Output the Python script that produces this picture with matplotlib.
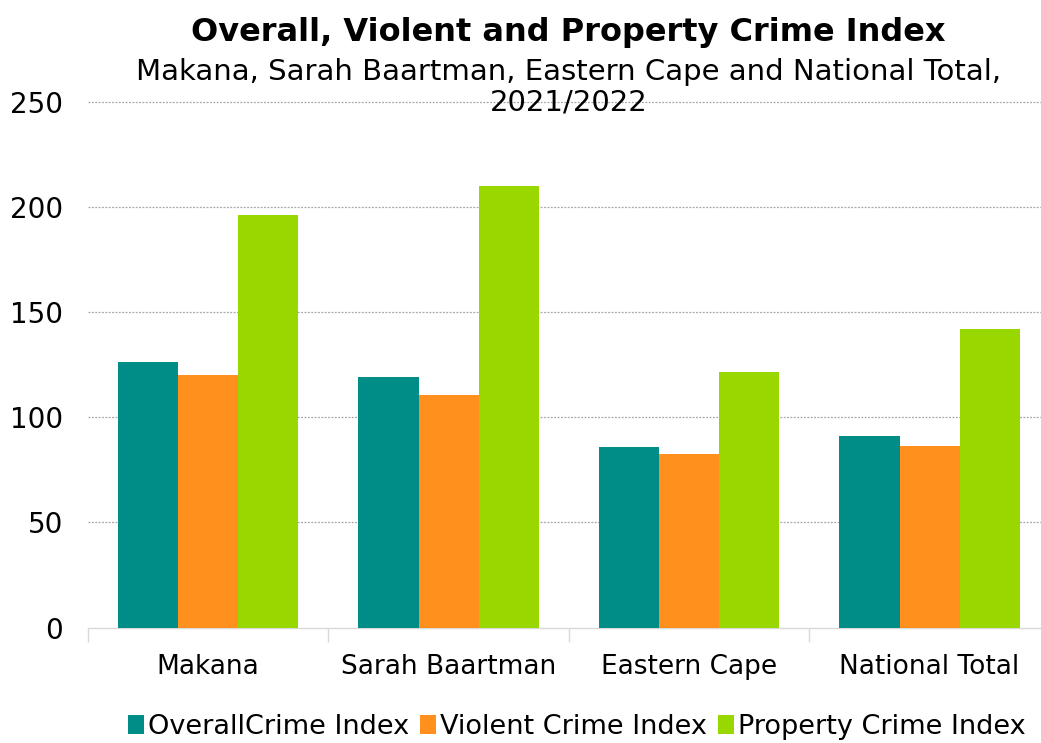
import numpy as np
import matplotlib
matplotlib.use('Agg')
import matplotlib.pyplot as plt
from matplotlib.patches import Patch

#%% Data
areas = ['Makana', 'Sarah Baartman', 'Eastern Cape', 'National Total']
overall = [126.5, 119.0, 85.9, 91.0]
violent = [120.3, 110.5, 82.5, 86.3]
prop = [196.3, 210.1, 121.6, 142.0]
series_names = ['OverallCrime Index', 'Violent Crime Index', 'Property Crime Index']
colors = ['#008C87', '#FF901E', '#98D800']
yticks = [0, 50, 100, 150, 200, 250]

#%% Plot
plt.rcParams['font.family'] = ['DejaVu Sans']
fig = plt.figure(figsize=(10.41, 7.43), dpi=100)
ax = fig.add_axes([0.0845, 0.1554, 0.924, 0.707])

x = np.arange(len(areas))
w = 0.25
for i, vals in enumerate([overall, violent, prop]):
    ax.bar(x + (i - 1) * w, vals, w, color=colors[i], edgecolor='none',
           linewidth=0, zorder=3)

ax.set_xlim(-0.5, len(areas) - 0.5)
ax.set_ylim(0, 250)
ax.set_yticks(yticks)
ax.tick_params(axis='y', length=0, pad=18, labelsize=20)
ax.set_xticks(x)
ax.set_xticklabels(areas)
ax.tick_params(axis='x', which='major', length=0, pad=19, labelsize=19)
ax.set_xticks(np.arange(-0.5, len(areas)), minor=True)
ax.tick_params(axis='x', which='minor', length=10, color='#D9D9D9', width=1)

# dotted gridlines above zero
for v in yticks[1:]:
    ax.axhline(v, color='#A6A6A6', linestyle=(0, (1.5, 1.2)), linewidth=0.9,
               zorder=1, clip_on=False)

for s in ['top', 'right', 'left']:
    ax.spines[s].set_visible(False)
ax.spines['bottom'].set_color('#D9D9D9')
ax.spines['bottom'].set_linewidth(1)

fig.text(0.546, 0.956, 'Overall, Violent and Property Crime Index',
         ha='center', va='center', fontsize=23, fontweight='bold')
fig.text(0.546, 0.883, 'Makana, Sarah Baartman, Eastern Cape and National Total,\n2021/2022',
         ha='center', va='center', fontsize=21, linespacing=1.12)

handles = [Patch(facecolor=c, edgecolor='none') for c in colors]
fig.legend(handles, series_names, loc='lower center', ncol=3,
           bbox_to_anchor=(0.554, -0.029), frameon=False, fontsize=19.5,
           handlelength=0.6, handleheight=0.7, handletextpad=0.15,
           columnspacing=0.4)

fig.savefig('out.png', dpi=100)
